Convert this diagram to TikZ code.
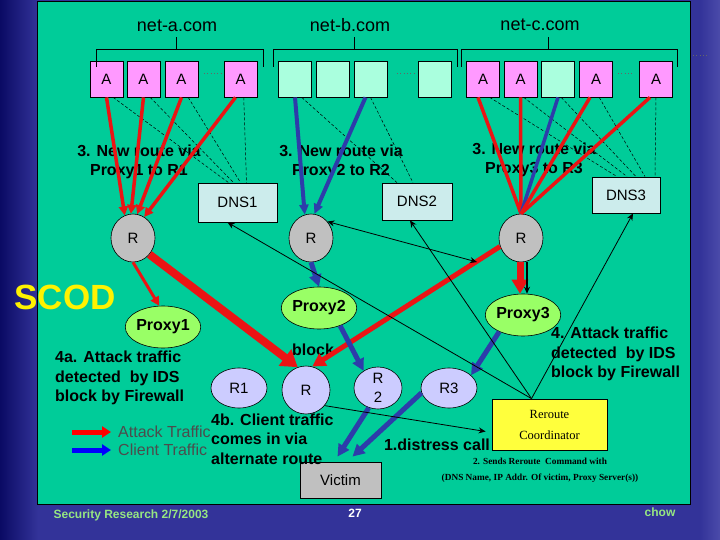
\documentclass[tikz,border=0pt]{standalone}
\usepackage{fontspec}
\setmainfont{Liberation Sans}
\newfontfamily\serifx{Liberation Serif}
\usetikzlibrary{arrows.meta,shapes.geometric}
\definecolor{bgblue}{RGB}{51,51,153}
\definecolor{navyD}{RGB}{10,10,100}
\definecolor{bgblueL}{RGB}{75,75,170}
\definecolor{panel}{RGB}{0,204,153}
\definecolor{pinkA}{RGB}{255,153,255}
\definecolor{aquaB}{RGB}{170,255,222}
\definecolor{dnsfill}{RGB}{204,236,236}
\definecolor{grayR}{RGB}{192,192,192}
\definecolor{proxyg}{RGB}{153,255,102}
\definecolor{lav}{RGB}{204,204,255}
\definecolor{yellowR}{RGB}{255,255,60}
\definecolor{redL}{RGB}{235,20,20}
\definecolor{blueL}{RGB}{45,60,170}
\definecolor{footg}{RGB}{150,230,130}
\begin{document}
\begin{tikzpicture}[x=1pt,y=-1pt,
  abox/.style={draw=black,line width=0.8pt,fill=pinkA,minimum width=33pt,minimum height=36pt,inner sep=0pt,font=\fontsize{15}{15}\selectfont},
  bbox/.style={abox,fill=aquaB},
  dnsbox/.style={draw=black,line width=0.8pt,fill=dnsfill,inner sep=0pt,font=\fontsize{15}{15}\selectfont},
  rgray/.style={ellipse,draw=black,line width=0.6pt,fill=grayR,minimum width=44pt,minimum height=48pt,inner sep=0pt,font=\fontsize{15}{15}\selectfont},
  proxy/.style={ellipse,draw=black,line width=0.6pt,fill=proxyg,minimum width=70pt,minimum height=42pt,inner sep=0pt,font=\bfseries\fontsize{16}{16}\selectfont},
  rlav/.style={ellipse,draw=black,line width=0.6pt,fill=lav,inner sep=0pt,font=\fontsize{15}{15}\selectfont},
  netlbl/.style={font=\fontsize{18}{18}\selectfont,inner sep=0pt},
  routelbl/.style={font=\bfseries\fontsize{16}{19}\selectfont,align=center,inner sep=0pt},
  notelbl/.style={font=\bfseries\fontsize{16}{19.5}\selectfont,align=left,inner sep=0pt,anchor=west},
  bracket/.style={draw=black,line width=0.9pt},
  dashline/.style={draw=black,line width=0.5pt,dash pattern=on 3pt off 2pt},
  dotsline/.style={draw=black!60,line width=0.8pt,dash pattern=on 0.8pt off 2.5pt},
  redarr/.style={draw=redL,line width=3.5pt,-{Triangle[length=9pt,width=9pt]}},
  redln/.style={draw=redL,line width=3.5pt},
  bluearr/.style={draw=blueL,line width=5pt,-{Triangle[length=12pt,width=12pt]}},
  blueln/.style={draw=blueL,line width=3.5pt},
  thinarr/.style={draw=black,line width=0.8pt,-{Stealth[length=7pt,width=6pt]}},
  footer/.style={font=\bfseries\fontsize{12}{12}\selectfont,inner sep=0pt}]
\useasboundingbox (0,0) rectangle (720,540);
% background
\fill[bgblue] (0,0) rectangle (720,540);
\shade[left color=navyD,right color=bgblue] (0,0) rectangle (38,540);
\shade[left color=bgblue,right color=bgblueL] (700,0) rectangle (720,540);
\draw[fill=panel,line width=0.8pt] (37,1) rectangle (690,504);
% host boxes
\node[abox] (A1) at (106.5,79) {A};
\node[abox] (A2) at (143.5,79) {A};
\node[abox] (A3) at (181.5,79) {A};
\node[abox] (A4) at (240.5,79) {A};
\node[bbox] (B1) at (295,79) {};
\node[bbox] (B2) at (332.5,79) {};
\node[bbox] (B3) at (370.5,79) {};
\node[bbox] (B4) at (434.5,79) {};
\node[abox] (C1) at (483,79) {A};
\node[abox] (C2) at (520.5,79) {A};
\node[bbox] (C3) at (558,79) {};
\node[abox] (C4) at (596,79) {A};
\node[abox] (C5) at (656,79) {A};
% brackets
\draw[bracket] (96,67) -- (96,49) -- (263,49) -- (263,67) (176,49) -- (176,37);
\draw[bracket] (273,67) -- (273,49) -- (457,49) -- (457,67) (354,49) -- (354,37);
\draw[bracket] (461,67) -- (461,49) -- (677,49) -- (677,67) (548,49) -- (548,37);
\draw[dotsline] (204,73) -- (222,73);
\draw[dotsline] (397,73) -- (414,73);
\draw[dotsline] (618,73) -- (634,73);
\draw[dotsline] (693,55) -- (708,55);
\node[netlbl] (na) at (177,26) {net-a.com};
\node[netlbl] (nb) at (350,25) {net-b.com};
\node[netlbl] (nc) at (540,25) {net-c.com};
% DNS
\node[dnsbox,minimum width=79pt,minimum height=39pt] (D1) at (237.5,202.5) {DNS1};
\node[dnsbox,minimum width=70pt,minimum height=37pt] (D2) at (417,201.5) {DNS2};
\node[dnsbox,minimum width=68pt,minimum height=36pt] (D3) at (626,195) {DNS3};
% route labels
\node[routelbl] (L1) at (139,162) {3. New route via\\Proxy1 to R1};
\node[routelbl] (L2) at (341,162) {3. New route via\\Proxy2 to R2};
\node[routelbl] (L3) at (534,160) {3. New route via\\Proxy3 to R3};
% routers
\node[rgray] (G1) at (133,238) {R};
\node[rgray] (G2) at (311,238) {R};
\node[rgray] (G3) at (521,238) {R};
\node[proxy] (P1) at (163,327) {Proxy1};
\node[proxy] (P2) at (319,308) {Proxy2};
\node[proxy] (P3) at (523,315) {Proxy3};
\node[rlav,minimum width=56pt,minimum height=40pt] (R1) at (239,388) {R1};
\node[rlav,minimum width=48pt,minimum height=48pt] (RC) at (306,390) {R};
\node[rlav,minimum width=48pt,minimum height=42pt,align=center,font=\fontsize{15}{19}\selectfont] (R2) at (378,388) {R\\2};
\node[rlav,minimum width=56pt,minimum height=40pt] (R3) at (449,388) {R3};
\node[draw=black,line width=0.8pt,fill=grayR,minimum width=81pt,minimum height=36pt,inner sep=0pt,font=\fontsize{15}{15}\selectfont] (V) at (340.5,480) {Victim};
\node[draw=black,line width=0.8pt,fill=yellowR,minimum width=115pt,minimum height=51pt,inner sep=0pt,align=center,font=\serifx\fontsize{12.5}{21}\selectfont] (RR) at (549.5,424.5) {Reroute\\Coordinator};
% texts
\node[font=\bfseries\fontsize{35}{35}\selectfont,text=yellow,inner sep=0pt] (scod) at (65,297) {SCOD};
\node[notelbl] (t4a) at (55,378) {4a. Attack traffic\\detected\ \ by IDS\\block by Firewall};
\node[notelbl] (t4) at (551,354) {4. Attack traffic\\detected\ \ by IDS\\block by Firewall};
\node[notelbl] (t4b) at (211,439) {4b. Client traffic\\comes in via\\alternate route};
\node[font=\bfseries\fontsize{16}{16}\selectfont,inner sep=0pt] (blk) at (313,350) {block};
\node[font=\bfseries\fontsize{16}{16}\selectfont,inner sep=0pt] (dc) at (437,445) {1.distress call};
\node[font=\serifx\bfseries\fontsize{9.3}{9.3}\selectfont,inner sep=0pt] (s2a) at (540,461) {2. Sends Reroute\ \ Command with};
\node[font=\serifx\bfseries\fontsize{9.3}{9.3}\selectfont,inner sep=0pt] (s2b) at (540,478) {(DNS Name, IP Addr. Of victim, Proxy Server(s))};
\node[font=\fontsize{16}{16}\selectfont,text=black!70,anchor=west,inner sep=0pt] (lgA) at (118,432) {Attack Traffic};
\node[font=\fontsize{16}{16}\selectfont,text=black!70,anchor=west,inner sep=0pt] (lgB) at (118,450) {Client Traffic};
\node[footer,text=footg] (f1) at (131,515) {Security Research 2/7/2003};
\node[footer,text=white] (f2) at (355,513) {27};
\node[footer,text=footg] (f3) at (660,512) {chow};
\coordinate (la1) at (72,432);
\coordinate (la2) at (111,432);
\coordinate (lb1) at (72,450);
\coordinate (lb2) at (111,450);
\coordinate (x1) at (477,262);
% dashed lines to DNS
\draw[dashline] (A1.-70) -- ([xshift=-9pt]D1.north);
\draw[dashline] (A2.-70) -- ([xshift=-4pt]D1.north);
\draw[dashline] (A3.-70) -- ([xshift=3pt]D1.north);
\draw[dashline] (A4.-80) -- ([xshift=9pt]D1.north);
\draw[dashline] (B1.-70) -- ([xshift=-20pt]D2.north);
\draw[dashline] (B3.south) -- ([xshift=-4pt]D2.north);
\draw[dashline] (C1.-70) -- ([xshift=-9pt]D3.north);
\draw[dashline] (C2.-80) -- ([xshift=1pt]D3.north);
\draw[dashline] (C3.-80) -- ([xshift=10pt]D3.north);
\draw[dashline] (C4.-80) -- ([xshift=19pt]D3.north);
\draw[dashline] (C5.south) -- ([xshift=29pt]D3.north);
% attack and client routes
\draw[redarr] (A1.south) -- (G1.110);
\draw[redarr] (A2.south) -- (G1.95);
\draw[redarr] (A3.south) -- (G1.80);
\draw[redarr] ([xshift=-5pt]A4.south) -- (G1.62);
\draw[bluearr,line width=4pt,-{Triangle[length=10pt,width=9pt]}] (B1.south) -- (G2.105);
\draw[bluearr,line width=4pt,-{Triangle[length=10pt,width=9pt]}] ([xshift=-5pt]B3.south) -- (G2.82);
\draw[redln] ([xshift=-5pt]C1.south) -- (G3.north);
\draw[redln] (C2.south) -- (G3.north);
\draw[blueln] (C3.south) -- (G3.north);
\draw[redln] ([xshift=-6pt]C4.south) -- (G3.north);
\draw[redln] ([xshift=-6pt]C5.south) -- (G3.north);
\draw[redarr,line width=3pt] (G1.south) -- (P1.100);
\draw[redarr,line width=8pt,-{Triangle[length=16pt,width=20pt]}] (G1.-45) -- (RC.110);
\draw[redarr,line width=5pt,-{Triangle[length=13pt,width=14pt]}] (G3.202) -- (RC.75);
\draw[bluearr] (G2.south) -- (P2.north);
\draw[bluearr] (P2.-40) -- (R2.130);
\draw[redarr,line width=7pt,-{Triangle[length=14pt,width=16pt]}] ([xshift=-1pt]G3.south) -- ([xshift=-3pt]P3.north);
\draw[thinarr,line width=1.6pt] ([xshift=6pt]G3.south) -- ([xshift=4pt]P3.north);
\draw[bluearr] (P3.215) -- (R3.30);
\draw[bluearr] (R2.-115) -- ([xshift=-3pt,yshift=5pt]V.north);
\draw[bluearr] (R3.190) -- ([xshift=12pt,yshift=5pt]V.north);
% control lines
\draw[thinarr] (RC.-40) -- ([xshift=-6pt,yshift=-7pt]RR.west);
\draw[thinarr] ([xshift=-18pt]RR.north) -- ([xshift=-10pt]D1.south);
\draw[thinarr] ([xshift=-18pt]RR.north) -- ([xshift=-7pt]D2.south);
\draw[thinarr] ([xshift=-18pt]RR.north) -- ([xshift=7pt]D3.south);
\draw[thinarr,{Stealth[length=7pt,width=6pt]}-{Stealth[length=7pt,width=6pt]}] (G2.45) -- (x1);
% legend
\draw[draw=red,line width=5pt,-{Triangle[length=9pt,width=11pt]}] (la1) -- (la2);
\draw[draw=blue,line width=5pt,-{Triangle[length=9pt,width=11pt]}] (lb1) -- (lb2);
\end{tikzpicture}
\end{document}
